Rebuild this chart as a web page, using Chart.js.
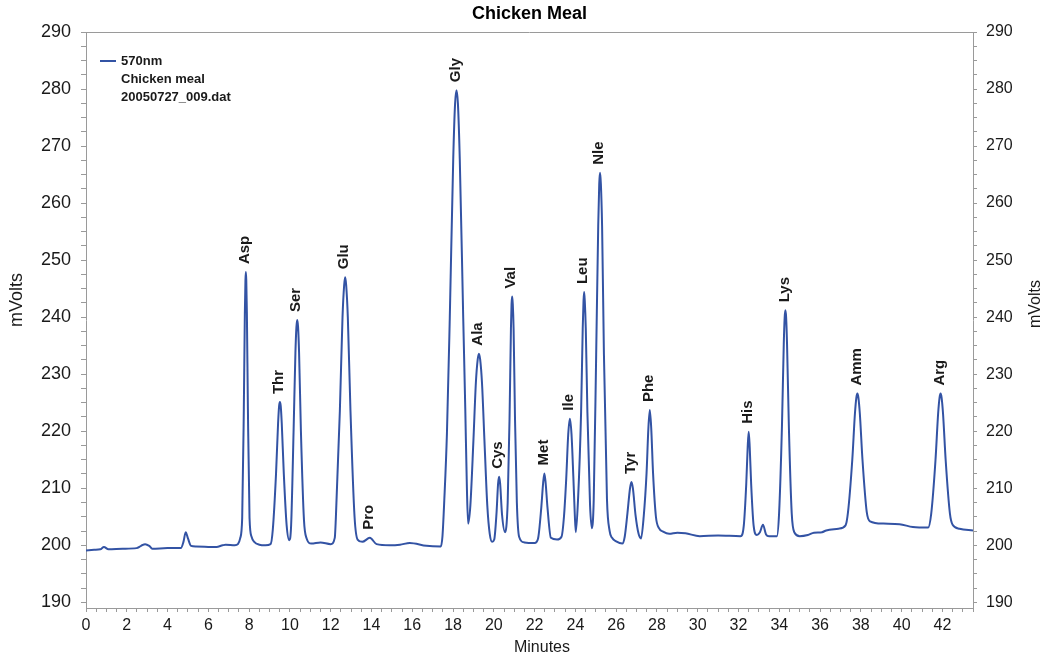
<!DOCTYPE html>
<html>
<head>
<meta charset="utf-8">
<script src="https://cdn.jsdelivr.net/npm/chart.js@4.4.1/dist/chart.umd.min.js"></script>
<style>
html,body{margin:0;padding:0;background:#ffffff;}
#wrap{width:1046px;height:661px;}
</style>
</head>
<body>
<div id="wrap"><canvas id="c" width="1046" height="661"></canvas></div>
<script>
// ---------- data ----------
const chartTitle = 'Chicken Meal';
const seriesLabel = '570nm';
const legendNotes = ['Chicken meal', '20050727_009.dat'];
const xTitle = 'Minutes';
const yTitle = 'mVolts';

const xTickLabels = [0,2,4,6,8,10,12,14,16,18,20,22,24,26,28,30,32,34,36,38,40,42];
const yTickLabels = [190,200,210,220,230,240,250,260,270,280,290];

const times = [
  0.00,0.40,0.70,0.88,1.10,1.80,2.48,2.70,2.90,3.10,3.25,4.00,4.65,4.78,4.89,5.00,5.15,5.40,6.40,6.70,6.85,7.30,
  7.45,7.56,7.66,7.74,7.79,7.82,7.84,7.86,7.89,7.94,8.02,8.12,8.25,8.50,8.80,
  9.05,9.16,9.32,9.42,9.47,9.51,9.55,9.60,9.70,9.84,9.97,
  10.06,10.18,10.27,10.32,10.36,10.40,10.45,10.54,10.69,10.82,11.05,11.50,12.00,
  12.20,12.25,12.45,12.58,12.66,12.71,12.76,12.84,12.97,13.17,13.32,13.55,13.92,14.25,14.90,15.40,15.88,16.70,17.40,
  17.48,17.57,17.70,17.84,18.01,18.10,18.17,18.24,18.33,18.50,18.60,18.68,18.74,
  18.85,19.00,19.12,19.21,19.27,19.33,19.42,19.54,19.68,19.80,19.92,
  20.02,20.13,20.21,20.26,20.31,20.40,20.55,
  20.68,20.77,20.84,20.87,20.90,20.93,20.97,21.04,21.13,21.24,21.50,22.00,
  22.17,22.33,22.42,22.48,22.54,22.63,22.80,23.10,
  23.32,23.44,23.55,23.65,23.73,23.81,23.90,23.97,24.02,
  24.13,24.28,24.36,24.40,24.43,24.46,24.51,24.59,24.72,24.81,
  24.90,25.02,25.12,25.17,25.21,25.25,25.31,25.40,25.55,25.68,25.80,26.00,26.30,
  26.42,26.55,26.68,26.75,26.82,26.95,27.10,27.22,
  27.35,27.49,27.58,27.65,27.72,27.81,27.95,28.10,28.30,28.60,29.00,29.40,30.10,31.00,32.10,
  32.26,32.38,32.45,32.50,32.55,32.62,32.74,32.90,33.05,33.20,33.35,33.50,33.88,
  33.99,34.13,34.22,34.265,34.30,34.335,34.38,34.47,34.61,34.75,35.00,35.40,35.70,36.10,36.30,36.90,37.25,
  37.37,37.58,37.71,37.78,37.83,37.88,37.95,38.08,38.29,38.45,39.10,39.90,40.55,41.30,
  41.45,41.66,41.79,41.86,41.91,41.96,42.03,42.16,42.37,42.50,42.84,43.50
];
const mvolts = [
  199.1,199.2,199.3,199.7,199.3,199.4,199.5,199.9,200.2,199.9,199.4,199.5,199.5,200.6,202.3,201.2,199.9,199.8,199.7,200.0,200.1,200.0,
  200.2,201.2,204.8,224.0,240.7,246.5,247.9,246.5,240.7,224.0,204.8,201.5,200.6,200.1,200.0,
  200.2,202.7,212.6,221.4,224.4,225.1,224.4,221.4,212.6,203.5,200.9,
  203.5,220.0,233.7,238.3,239.5,238.3,233.7,220.0,204.4,201.2,200.3,200.5,200.2,
  201.3,204.5,223.6,240.0,245.6,247.0,245.6,240.0,223.6,205.0,201.0,200.6,201.3,200.2,200.0,200.1,200.4,199.9,199.8,
  201.5,207.8,219.5,239.8,267.8,277.4,279.8,277.4,267.8,239.8,224.0,210.0,203.8,
  207.0,218.4,228.5,232.6,233.6,232.6,228.5,218.4,207.0,202.0,200.6,
  201.0,205.5,210.8,212.0,210.8,205.5,202.3,
  207.5,222.0,238.0,242.3,243.6,242.3,238.0,222.0,207.5,201.5,200.5,200.4,
  201.2,206.7,211.0,212.6,211.0,206.7,201.3,201.0,
  201.5,205.0,211.6,219.5,222.2,219.5,212.0,205.5,202.3,
  208.0,223.3,238.0,242.9,244.4,242.9,238.0,223.3,207.0,203.0,
  208.0,233.5,256.0,263.4,265.3,263.4,256.0,233.5,208.0,202.5,201.3,200.7,200.3,
  201.5,205.5,210.0,211.1,210.0,205.3,202.0,201.2,
  205.0,212.6,220.5,223.7,220.5,212.6,205.0,203.0,202.4,202.0,202.2,202.1,201.6,201.7,201.6,
  203.5,210.8,217.2,219.9,217.2,210.8,203.5,201.8,202.3,203.6,201.9,201.6,201.6,
  205.6,220.8,235.3,240.0,241.2,240.0,235.3,220.8,205.6,202.2,201.6,201.8,202.2,202.3,202.6,202.9,203.5,
  205.8,215.0,223.1,225.9,226.6,225.9,223.1,215.0,205.8,204.2,203.8,203.7,203.2,203.1,
  205.5,214.9,223.1,225.9,226.6,225.9,223.1,214.9,205.5,203.6,202.9,202.6
];

const peakNames  = ['Asp','Thr','Ser','Glu','Pro','Gly','Ala','Cys','Val','Met','Ile','Leu','Nle','Tyr','Phe','His','Lys','Amm','Arg'];
const peakTimes  = [7.84,9.51,10.36,12.71,13.92,18.17,19.27,20.26,20.90,22.48,23.73,24.43,25.21,26.75,27.65,32.50,34.30,37.83,41.91];
const peakValues = [247.9,225.1,239.5,247.0,201.3,279.8,233.6,212.0,243.6,212.6,222.2,244.4,265.3,211.1,223.7,219.9,241.2,226.6,226.6];

// ---------- chart ----------
const FONT = '"Liberation Sans", Arial, Helvetica, sans-serif';
const LINE_COLOR = '#3353a4';
const AXIS_COLOR = '#9a9a9a';
const TEXT_COLOR = '#1a1a1a';
const Y_MINOR_DIVISIONS = 4;

const n = Math.min(times.length, mvolts.length);
const points = [];
for (let i = 0; i < n; i++) points.push({x: times[i], y: mvolts[i]});

// tick positions: every labelled value plus minor subdivisions
const yTickPositions = [];
yTickLabels.forEach((v, i) => {
  yTickPositions.push(v);
  if (i < yTickLabels.length - 1) {
    const step = (yTickLabels[i + 1] - v) / Y_MINOR_DIVISIONS;
    for (let k = 1; k < Y_MINOR_DIVISIONS; k++) yTickPositions.push(v + k * step);
  }
});

function isLabel(v, list) {
  return list.some(l => Math.abs(l - v) < 1e-6);
}

const decorPlugin = {
  id: 'decor',
  afterDatasetsDraw(chart) {
    const {ctx} = chart;
    const xs = chart.scales.x, ys = chart.scales.y;
    ctx.save();
    ctx.font = 'bold 15px ' + FONT;
    ctx.fillStyle = TEXT_COLOR;
    ctx.textAlign = 'left';
    ctx.textBaseline = 'middle';
    peakNames.forEach((name, i) => {
      const px = xs.getPixelForValue(peakTimes[i]);
      const py = ys.getPixelForValue(peakValues[i]);
      ctx.save();
      ctx.translate(px - 1, py - 8);
      ctx.rotate(-Math.PI / 2);
      ctx.fillText(name, 0, 0);
      ctx.restore();
    });
    ctx.restore();
  },
  afterDraw(chart) {
    const {ctx, chartArea} = chart;
    ctx.save();
    ctx.strokeStyle = AXIS_COLOR;
    ctx.lineWidth = 1;
    ctx.beginPath();
    ctx.moveTo(chartArea.left, chartArea.top + 0.5);
    ctx.lineTo(chartArea.right, chartArea.top + 0.5);
    ctx.stroke();
    ctx.fillStyle = '#000';
    ctx.font = 'bold 18px ' + FONT;
    ctx.textAlign = 'center';
    ctx.textBaseline = 'middle';
    ctx.fillText(chartTitle, 529.5, 14);
    ctx.fillStyle = TEXT_COLOR;
    ctx.font = '16px ' + FONT;
    ctx.fillText(xTitle, 542, 648);
    ctx.save();
    ctx.font = '18px ' + FONT;
    ctx.translate(17, 300);
    ctx.rotate(-Math.PI / 2);
    ctx.fillText(yTitle, 0, 0);
    ctx.restore();
    ctx.save();
    ctx.font = '16px ' + FONT;
    ctx.translate(1036, 304);
    ctx.rotate(-Math.PI / 2);
    ctx.fillText(yTitle, 0, 0);
    ctx.restore();
    const ds = chart.data.datasets[0];
    ctx.strokeStyle = ds.borderColor;
    ctx.lineWidth = 2;
    ctx.beginPath();
    ctx.moveTo(100, 61);
    ctx.lineTo(116, 61);
    ctx.stroke();
    ctx.fillStyle = TEXT_COLOR;
    ctx.font = 'bold 13px ' + FONT;
    ctx.textAlign = 'left';
    ctx.textBaseline = 'middle';
    ctx.fillText(ds.label, 121, 61);
    legendNotes.forEach((t, i) => ctx.fillText(t, 121, 79 + i * 18));
    ctx.restore();
  }
};

const yTickSetter = scale => { scale.ticks = yTickPositions.map(v => ({value: v})); };

new Chart(document.getElementById('c'), {
  type: 'line',
  data: {
    datasets: [{
      label: seriesLabel,
      data: points,
      borderColor: LINE_COLOR,
      backgroundColor: LINE_COLOR,
      borderWidth: 2,
      pointRadius: 0,
      fill: false,
      cubicInterpolationMode: 'monotone'
    }]
  },
  options: {
    responsive: false,
    animation: false,
    devicePixelRatio: 1,
    layout: {padding: {top: 32, left: 0, right: 0, bottom: 0}},
    plugins: {legend: {display: false}, title: {display: false}, tooltip: {enabled: false}},
    scales: {
      x: {
        type: 'linear',
        min: 0, max: 43.5,
        afterFit: s => { s.height = 53; },
        border: {display: true, color: AXIS_COLOR, width: 1},
        grid: {display: true, drawOnChartArea: false, drawTicks: true, tickLength: 4, color: AXIS_COLOR},
        ticks: {
          stepSize: 0.5, autoSkip: false, maxRotation: 0, padding: 4,
          color: TEXT_COLOR, font: {family: FONT, size: 16},
          callback: v => isLabel(v, xTickLabels) ? String(Math.round(v)) : ''
        }
      },
      y: {
        type: 'linear', position: 'left',
        min: 189, max: 290,
        afterFit: s => { s.width = 86; },
        afterBuildTicks: yTickSetter,
        border: {display: true, color: AXIS_COLOR, width: 1},
        grid: {display: true, drawOnChartArea: false, drawTicks: true, tickLength: 5, color: AXIS_COLOR},
        ticks: {
          autoSkip: false, padding: 10,
          color: TEXT_COLOR, font: {family: FONT, size: 18},
          callback: v => isLabel(v, yTickLabels) ? String(Math.round(v)) : ''
        }
      },
      y2: {
        type: 'linear', position: 'right',
        min: 189, max: 290,
        afterFit: s => { s.width = 73; },
        afterBuildTicks: yTickSetter,
        border: {display: true, color: AXIS_COLOR, width: 1},
        grid: {display: true, drawOnChartArea: false, drawTicks: true, tickLength: 4, color: AXIS_COLOR},
        ticks: {
          autoSkip: false, padding: 9,
          color: TEXT_COLOR, font: {family: FONT, size: 16},
          callback: v => isLabel(v, yTickLabels) ? String(Math.round(v)) : ''
        }
      }
    }
  },
  plugins: [decorPlugin]
});
</script>
</body>
</html>
